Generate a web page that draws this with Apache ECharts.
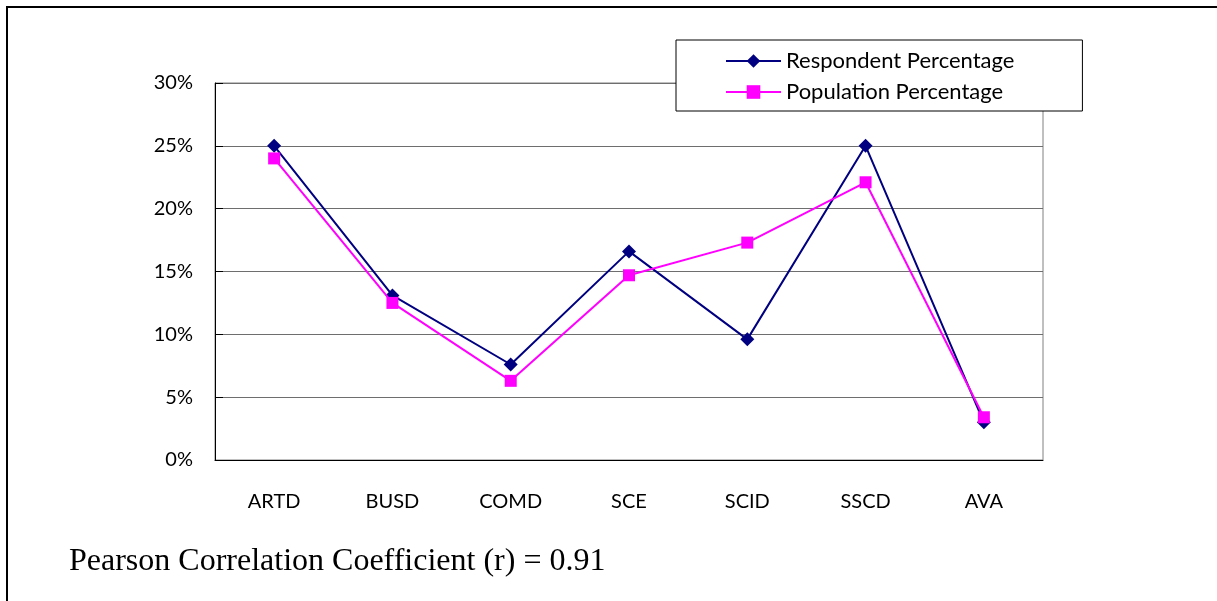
<!DOCTYPE html>
<html>
<head>
<meta charset="utf-8">
<script src="https://cdn.jsdelivr.net/npm/echarts@6/dist/echarts.min.js"></script>
<style>
html,body{margin:0;padding:0;background:#fff;}
#main{width:1217px;height:601px;}
</style>
</head>
<body>
<div id="main"></div>
<script>
const categories = ['ARTD', 'BUSD', 'COMD', 'SCE', 'SCID', 'SSCD', 'AVA'];
const respondentPct = [25.0, 13.1, 7.6, 16.6, 9.6, 25.0, 3.0];
const populationPct = [24.0, 12.5, 6.3, 14.7, 17.3, 22.1, 3.4];
const yTicks = [0, 5, 10, 15, 20, 25, 30];
const footnote = 'Pearson Correlation Coefficient (r) = 0.91';

const chart = echarts.init(document.getElementById('main'), null, {renderer: 'canvas'});
chart.setOption({
  animation: false,
  backgroundColor: '#fff',
  grid: {left: 215, top: 83, width: 828, height: 377, show: true, borderColor: '#808080', borderWidth: 1, backgroundColor: 'transparent'},
  legend: {
    orient: 'vertical',
    left: 676, top: 40,
    padding: [10, 68, 8, 49],
    itemGap: 9,
    itemWidth: 55, itemHeight: 17,
    borderColor: '#000', borderWidth: 1,
    backgroundColor: '#fff',
    textStyle: {fontFamily: 'Lato', fontSize: 22, color: '#000', lineHeight: 22},
    data: ['Respondent Percentage', 'Population Percentage']
  },
  xAxis: {
    type: 'category',
    data: categories,
    boundaryGap: true,
    axisLine: {lineStyle: {color: '#000', width: 1}},
    axisTick: {inside: true, length: 8, interval: 0, lineStyle: {color: '#000'}},
    axisLabel: {fontFamily: 'Lato', fontSize: 20, color: '#000', margin: 32, interval: 0},
    splitLine: {show: false}
  },
  yAxis: {
    type: 'value',
    min: yTicks[0], max: yTicks[yTicks.length - 1], interval: 5,
    axisLine: {show: true, lineStyle: {color: '#000', width: 1}},
    axisTick: {show: true, inside: true, length: 8, lineStyle: {color: '#000'}},
    axisLabel: {fontFamily: 'Lato', fontSize: 20, color: '#000', margin: 22, formatter: '{value}%'},
    splitLine: {show: true, lineStyle: {color: '#6e6e6e', width: 1}}
  },
  series: [
    {
      name: 'Respondent Percentage', type: 'line', data: respondentPct,
      symbol: 'diamond', symbolSize: 14,
      lineStyle: {color: '#000080', width: 2},
      itemStyle: {color: '#000080'},
      z: 2
    },
    {
      name: 'Population Percentage', type: 'line', data: populationPct,
      symbol: 'rect', symbolSize: 12,
      lineStyle: {color: '#FF00FF', width: 2},
      itemStyle: {color: '#FF00FF'},
      z: 3
    }
  ],
  graphic: [
    {type: 'rect', shape: {x: 7, y: 7, width: 1230, height: 620}, style: {fill: 'none', stroke: '#000', lineWidth: 2}, silent: true},
    {type: 'text', x: 69, y: 562, style: {text: footnote, font: '32px "Liberation Serif"', fill: '#000', textVerticalAlign: 'middle', verticalAlign: 'middle'}}
  ]
});
</script>
</body>
</html>
